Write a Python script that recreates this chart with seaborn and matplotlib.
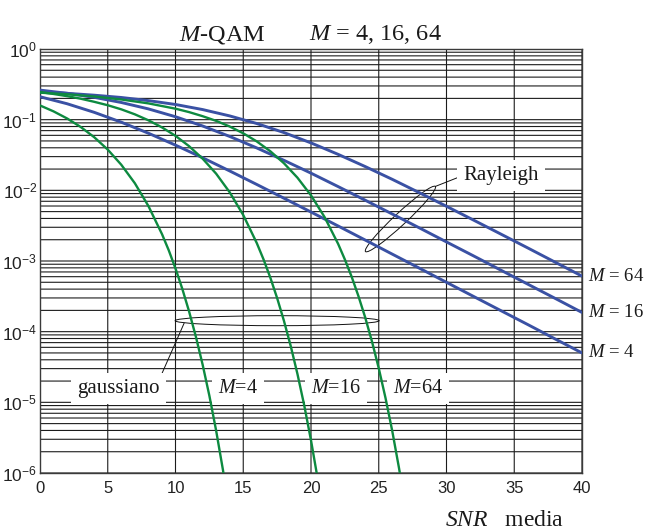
import numpy as np
import seaborn as sns
import matplotlib
matplotlib.use("Agg")
import matplotlib.pyplot as plt
from matplotlib.patches import Ellipse
from matplotlib.transforms import ScaledTranslation
from matplotlib.ticker import FixedLocator, FuncFormatter, LogLocator, NullFormatter

# Average SNR (dB) and bit error probability, M-QAM over Rayleigh fading
snr_rayleigh = [0, 2, 4, 6, 8, 10, 12, 14, 16, 18, 20, 22, 24, 26, 28, 30, 32, 34, 36, 38, 40]
rayleigh_m4 = [0.211, 0.168, 0.127, 0.0921, 0.0643, 0.0436, 0.0289, 0.0188, 0.0121, 0.00774,
               0.00493, 0.00313, 0.00198, 0.00125, 7.91e-4, 4.99e-4, 3.15e-4, 1.99e-4,
               1.26e-4, 7.92e-5, 5.0e-5]
rayleigh_m16 = [0.262, 0.236, 0.207, 0.175, 0.142, 0.110, 0.0814, 0.0579, 0.0398, 0.0266,
                0.0175, 0.0113, 0.00725, 0.00462, 0.00294, 0.00186, 0.00118, 7.44e-4,
                4.70e-4, 2.97e-4, 1.87e-4]
rayleigh_m64 = [0.247, 0.236, 0.222, 0.206, 0.186, 0.164, 0.139, 0.113, 0.0882, 0.0657,
                0.0469, 0.0323, 0.0217, 0.0143, 0.00925, 0.00594, 0.00379, 0.00241,
                0.00153, 9.66e-4, 6.11e-4]

# Gaussian (AWGN) channel
snr_gauss_m4 = [0, 1, 2, 3, 4, 5, 6, 7, 8, 9, 9.5, 10, 10.5, 11, 11.5, 12, 12.5, 13, 13.5, 14]
gauss_m4 = [0.159, 0.131, 0.104, 0.0789, 0.0565, 0.0377, 0.0230, 0.0126, 0.00600, 0.00241,
            0.00142, 7.83e-4, 4.05e-4, 1.94e-4, 8.55e-5, 3.43e-5, 1.24e-5, 3.97e-6,
            1.11e-6, 2.70e-7]
snr_gauss_m16 = [0, 1, 2, 3, 4, 5, 6, 7, 8, 9, 10, 11, 12, 13, 14, 15, 16,
                 16.5, 17, 17.5, 18, 18.5, 19, 19.5, 20, 20.5, 21]
gauss_m16 = [0.246, 0.231, 0.215, 0.198, 0.179, 0.160, 0.140, 0.119, 0.0980, 0.0778,
             0.0590, 0.0422, 0.0281, 0.0172, 0.00938, 0.00447, 0.00179,
             0.00105, 5.80e-4, 2.99e-4, 1.43e-4, 6.30e-5, 2.52e-5, 9.07e-6, 2.90e-6,
             8.13e-7, 1.96e-7]
snr_gauss_m64 = [0, 2, 4, 6, 8, 10, 11, 12, 13, 14, 15, 16, 17, 18, 19, 20, 21, 22,
                 22.5, 23, 23.5, 24, 24.5, 25, 25.5, 26, 26.5, 27]
gauss_m64 = [0.241, 0.229, 0.213, 0.193, 0.170, 0.143, 0.128, 0.112, 0.0962, 0.0800,
             0.0641, 0.0492, 0.0357, 0.0242, 0.0151, 0.00849, 0.00419, 0.00175,
             0.00105, 5.99e-4, 3.19e-4, 1.59e-4, 7.26e-5, 3.04e-5, 1.15e-5, 3.90e-6,
             1.16e-6, 3.01e-7]

x_ticks = [0, 5, 10, 15, 20, 25, 30, 35, 40]
y_decades = [1e-6, 1e-5, 1e-4, 1e-3, 1e-2, 1e-1, 1e0]
rayleigh_labels = ["$M$ = 4", "$M$ = 16", "$M$ = 64"]
gauss_labels = ["$M$=4", "$M$=16", "$M$=64"]

BLUE = "#3a51a4"
GREEN = "#0d8a40"
SERIF = "Liberation Serif"

sns.set_theme(style="white")
plt.rcParams.update({
    "font.family": ["Liberation Sans", "DejaVu Sans"],
    "mathtext.fontset": "custom",
    "mathtext.rm": SERIF,
    "mathtext.it": SERIF + ":italic",
    "mathtext.sf": "Liberation Sans",
    "axes.unicode_minus": False,
})

fig = plt.figure(figsize=(6.45, 5.3), dpi=100)
ax = fig.add_axes([40 / 645, 57 / 530, 542 / 645, 424 / 530])
ax.set_yscale("log")

for xs, ys in [(snr_rayleigh, rayleigh_m4), (snr_rayleigh, rayleigh_m16), (snr_rayleigh, rayleigh_m64)]:
    sns.lineplot(x=xs, y=ys, ax=ax, color=BLUE, linewidth=2.1, estimator=None,
                 sort=False, zorder=4)
for xs, ys in [(snr_gauss_m4, gauss_m4), (snr_gauss_m16, gauss_m16), (snr_gauss_m64, gauss_m64)]:
    sns.lineplot(x=xs, y=ys, ax=ax, color=GREEN, linewidth=1.7, estimator=None,
                 sort=False, zorder=4)

ax.set_xlim(0, 40)
ax.set_ylim(1e-6, 1)
ax.xaxis.set_major_locator(FixedLocator(x_ticks))
ax.yaxis.set_major_locator(FixedLocator(y_decades))
ax.yaxis.set_major_formatter(FuncFormatter(
    lambda v, p: r"$\mathsf{10^{%d}}$" % int(round(np.log10(v)))))
ax.yaxis.set_minor_locator(LogLocator(base=10, subs=np.arange(2, 10), numticks=100))
ax.yaxis.set_minor_formatter(NullFormatter())
ax.tick_params(which="both", length=0)
ax.tick_params(axis="x", labelsize=12, pad=6, colors="#222222")
ax.tick_params(axis="y", labelsize=12.5, pad=2, colors="#222222")
ax.grid(which="both", color="#1c1c1c", linewidth=0.8, snap=False)
ax.set_axisbelow(True)
for s in ax.spines.values():
    s.set_color("#3a3a3a")
    s.set_linewidth(1.0)


def pixel_anchor(x, y):
    """Offsets in inches around a point given in data coordinates."""
    return fig.dpi_scale_trans + ScaledTranslation(x, y, ax.transData)


text_kw = dict(fontfamily=SERIF, color="#1a1a1a", zorder=3)
box = dict(boxstyle="square,pad=0.3", fc="white", ec="none")
line_kw = dict(arrowstyle="-", color="#111111", lw=0.7, shrinkA=0, shrinkB=0, patchA=None)

# Rayleigh group: slanted ellipse with a leader to its label
ray_c = (26.6, 3.93e-3)
ang = np.deg2rad(43)
ax.add_patch(Ellipse((0, 0), 0.955, 0.12, angle=43, transform=pixel_anchor(*ray_c),
                     fill=False, ec="#111111", lw=0.7, zorder=3.5))
ax.annotate("Rayleigh", xy=(0.4775 * np.cos(ang), 0.4775 * np.sin(ang)),
            xycoords=pixel_anchor(*ray_c), xytext=(34.0, 1.40e-2), textcoords="data",
            ha="center", va="baseline", fontsize=15, bbox=box,
            arrowprops=dict(relpos=(0, 0.5), **line_kw), **text_kw)

# Gaussian group: flat ellipse with a leader to its label
gau_c = (17.5, 1.43e-4)
ax.add_patch(Ellipse((0, 0), 2.04, 0.10, transform=pixel_anchor(*gau_c),
                     fill=False, ec="#111111", lw=0.7, zorder=3.5))
ax.annotate("gaussiano", xy=(-0.93, -0.025), xycoords=pixel_anchor(*gau_c),
            xytext=(5.78, 1.36e-5), textcoords="data", ha="center", va="baseline",
            fontsize=15, bbox=box, arrowprops=dict(relpos=(1, 1), **line_kw), **text_kw)
for lbl, xc in zip(gauss_labels, [14.64, 21.85, 27.87]):
    ax.text(xc, 1.36e-5, lbl, ha="center", va="baseline", fontsize=14.5, bbox=box, **text_kw)

# Curve labels at the right end of the Rayleigh curves
for lbl, ys in zip(rayleigh_labels, [rayleigh_m4, rayleigh_m16, rayleigh_m64]):
    ax.annotate(lbl, xy=(snr_rayleigh[-1], ys[-1]), xytext=(4, 0), textcoords="offset points",
                ha="left", va="center", fontsize=13.5, annotation_clip=False, **text_kw)

# Title and axis caption
fig.text(179 / 645, 1 - 40 / 530, "$M$-QAM", fontsize=17.5, va="baseline", ha="left", **text_kw)
fig.text(309 / 645, 1 - 40 / 530, "$M$ = 4, 16, 64", fontsize=17.5, va="baseline", ha="left", **text_kw)
fig.text(445 / 645, 1 - 526 / 530, "$SNR$   media", fontsize=17, va="baseline", ha="left", **text_kw)

fig.savefig("out.png", dpi=100)
